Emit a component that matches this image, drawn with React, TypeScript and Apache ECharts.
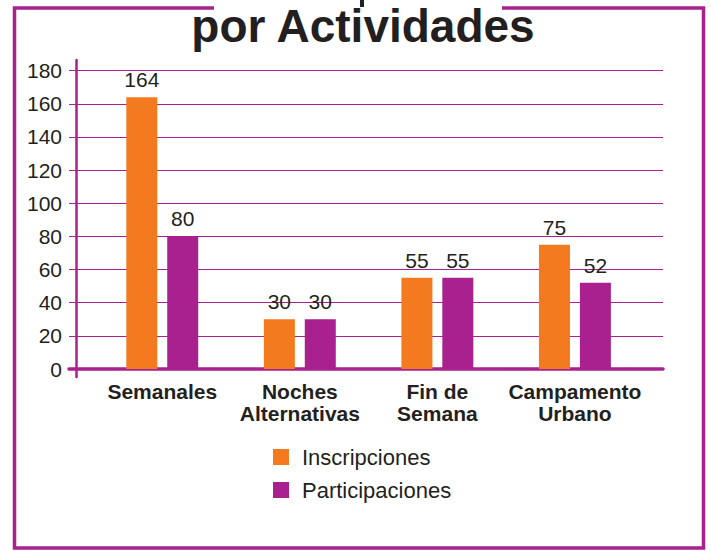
import React, { useEffect, useRef } from "react";
import * as echarts from "echarts";

const categories = ["Semanales", "Noches\nAlternativas", "Fin de\nSemana", "Campamento\nUrbano"];
const inscripciones = [164, 30, 55, 75];
const participaciones = [80, 30, 55, 52];
const seriesNames = ["Inscripciones", "Participaciones"];
const titleText = "por Actividades";
const yMin = 0;
const yMax = 180;
const yInterval = 20;

const ORANGE = "#F47A20";
const PURPLE = "#A8218E";
const TEXT = "#231F20";
const FONT = "'Liberation Sans', Arial, Helvetica, sans-serif";

export default function App() {
  const ref = useRef<HTMLDivElement>(null);
  useEffect(() => {
    if (!ref.current) return;
    const chart = echarts.init(ref.current, null, { renderer: "svg" });
    const gridTop = 70.7;
    const gridBottom = 551 - 369;
    chart.setOption({
      animation: false,
      backgroundColor: "#fff",
      textStyle: { fontFamily: FONT },
      graphic: [
        {
          type: "polyline",
          shape: {
            points: [
              [214, 8],
              [14.5, 8],
              [14.5, 548],
              [703.5, 548],
              [703.5, 8],
              [502, 8],
            ],
          },
          style: { stroke: PURPLE, lineWidth: 3.5, fill: null },
          silent: true,
        },
        {
          type: "rect",
          shape: { x: 360, y: 0, width: 4, height: 7 },
          style: { fill: TEXT },
          silent: true,
        },
        {
          type: "text",
          x: 363,
          y: 26,
          style: {
            text: titleText,
            font: `bold 46px ${FONT}`,
            fill: TEXT,
            textAlign: "center",
            textVerticalAlign: "middle",
          },
          silent: true,
        },
      ],
      legend: {
        data: seriesNames,
        orient: "vertical",
        left: 268,
        top: 441,
        itemWidth: 16,
        itemHeight: 16,
        itemGap: 11,
        icon: "rect",
        textStyle: { fontSize: 22, color: TEXT, fontFamily: FONT, padding: [0, 0, 0, 8] },
      },
      grid: [
        { left: 69, right: 711 - 663, top: gridTop, bottom: gridBottom, containLabel: false },
        { left: 93.5, right: 711 - 643.7, top: gridTop, bottom: gridBottom, containLabel: false },
        { left: 76, width: 1, top: 60, bottom: 551 - 377, containLabel: false },
      ],
      xAxis: [
        {
          gridIndex: 0,
          type: "category",
          data: categories,
          axisLine: { show: true, lineStyle: { color: PURPLE, width: 3.5 } },
          axisTick: { show: false },
          axisLabel: { show: false },
          splitLine: { show: false },
        },
        {
          gridIndex: 1,
          type: "category",
          data: categories,
          axisLine: { show: false },
          axisTick: { show: false },
          axisLabel: {
            show: true,
            fontSize: 21,
            fontWeight: "bold",
            color: TEXT,
            fontFamily: FONT,
            lineHeight: 22,
            margin: 11,
            interval: 0,
          },
        },
        { gridIndex: 2, type: "value", show: false },
      ],
      yAxis: [
        {
          gridIndex: 0,
          type: "value",
          min: yMin,
          max: yMax,
          interval: yInterval,
          axisLine: { show: false },
          axisTick: { show: false },
          axisLabel: { show: true, fontSize: 21, color: TEXT, fontFamily: FONT, margin: 7 },
          splitLine: { show: true, lineStyle: { color: PURPLE, width: 1 } },
        },
        {
          gridIndex: 1,
          type: "value",
          min: yMin,
          max: yMax,
          interval: yInterval,
          show: false,
          splitLine: { show: false },
        },
        {
          gridIndex: 2,
          type: "value",
          min: 0,
          max: 1,
          axisLine: { show: true, lineStyle: { color: PURPLE, width: 2.5 } },
          axisTick: { show: false },
          axisLabel: { show: false },
          splitLine: { show: false },
        },
      ],
      series: [
        {
          name: seriesNames[0],
          type: "bar",
          xAxisIndex: 1,
          yAxisIndex: 1,
          data: inscripciones,
          barWidth: 31,
          barGap: "32%",
          itemStyle: { color: ORANGE },
          label: { show: true, position: "top", distance: 7, fontSize: 21, color: TEXT, fontFamily: FONT },
        },
        {
          name: seriesNames[1],
          type: "bar",
          xAxisIndex: 1,
          yAxisIndex: 1,
          data: participaciones,
          barWidth: 31,
          barGap: "32%",
          itemStyle: { color: PURPLE },
          label: { show: true, position: "top", distance: 7, fontSize: 21, color: TEXT, fontFamily: FONT },
        },
      ],
    });
    return () => chart.dispose();
  }, []);
  return (
    <div
      ref={ref}
      style={{ position: "fixed", left: 0, top: 0, width: 711, height: 551 }}
    />
  );
}
